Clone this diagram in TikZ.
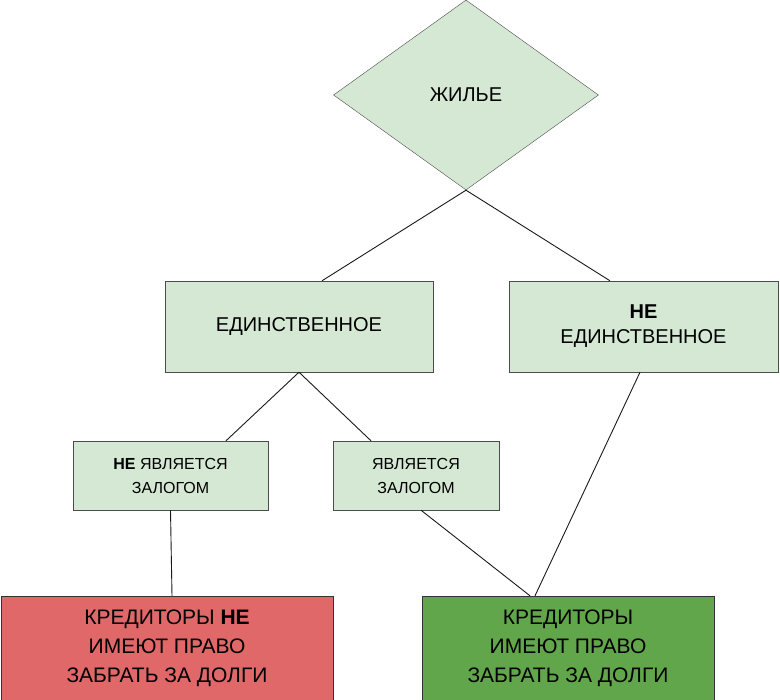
\documentclass[tikz,border=0pt]{standalone}
\usepackage{fontspec}
\setmainfont{Liberation Sans}
\usetikzlibrary{shapes.geometric}
\definecolor{lgreen}{HTML}{D5E8D4}
\definecolor{dgreen}{HTML}{62A64B}
\definecolor{lred}{HTML}{E06868}
\tikzset{
  box/.style={draw=black!70, fill=lgreen, align=center, inner sep=0pt},
  edge/.style={draw=black!90, line width=0.9pt}
}
\begin{document}
\begin{tikzpicture}[x=1pt, y=-1pt]
\useasboundingbox (0,0) rectangle (780,700);

% Top
\node[box, diamond, minimum width=265, minimum height=190, aspect=1.4, font=\fontsize{20}{24}\selectfont] (home) at (466,95) {ЖИЛЬЕ};

% Second row
\node[box, minimum width=268, minimum height=91, font=\fontsize{20}{25}\selectfont] (sole) at (299,326.5) {ЕДИНСТВЕННОЕ};
\node[box, minimum width=269, minimum height=91, font=\fontsize{20}{25}\selectfont] (notsole) at (643.5,326.5) {\textbf{НЕ}\\ЕДИНСТВЕННОЕ};

% Third row
\node[box, minimum width=195, minimum height=69, font=\fontsize{16}{24}\selectfont] (nopledge) at (170.5,475.5) {\textbf{НЕ} ЯВЛЯЕТСЯ\\ЗАЛОГОМ};
\node[box, minimum width=166, minimum height=69, font=\fontsize{16}{24}\selectfont] (pledge) at (416,475.5) {ЯВЛЯЕТСЯ\\ЗАЛОГОМ};

% Bottom
\node[draw=black!80, fill=lred, align=center, minimum width=332, minimum height=104, font=\fontsize{21}{29}\selectfont] (cannot) at (167,648) {КРЕДИТОРЫ \textbf{НЕ}\\ИМЕЮТ ПРАВО\\ЗАБРАТЬ ЗА ДОЛГИ};
\node[draw=black!80, fill=dgreen, align=center, minimum width=292, minimum height=104, font=\fontsize{21}{29}\selectfont] (can) at (568,648) {КРЕДИТОРЫ\\ИМЕЮТ ПРАВО\\ЗАБРАТЬ ЗА ДОЛГИ};

% Connectors
\draw[edge] (home.south) -- ([xshift=23]sole.north);
\draw[edge] (home.south) -- ([xshift=-33.5]notsole.north);
\draw[edge] (sole.south) -- ([xshift=55.5]nopledge.north);
\draw[edge] (sole.south) -- ([xshift=-45]pledge.north);
\draw[edge] (nopledge.south) -- ([xshift=5]cannot.north);
\draw[edge] ([xshift=5]pledge.south) -- ([xshift=-38]can.north);
\draw[edge] ([xshift=-3.5]notsole.south) -- ([xshift=-33]can.north);
\end{tikzpicture}
\end{document}
